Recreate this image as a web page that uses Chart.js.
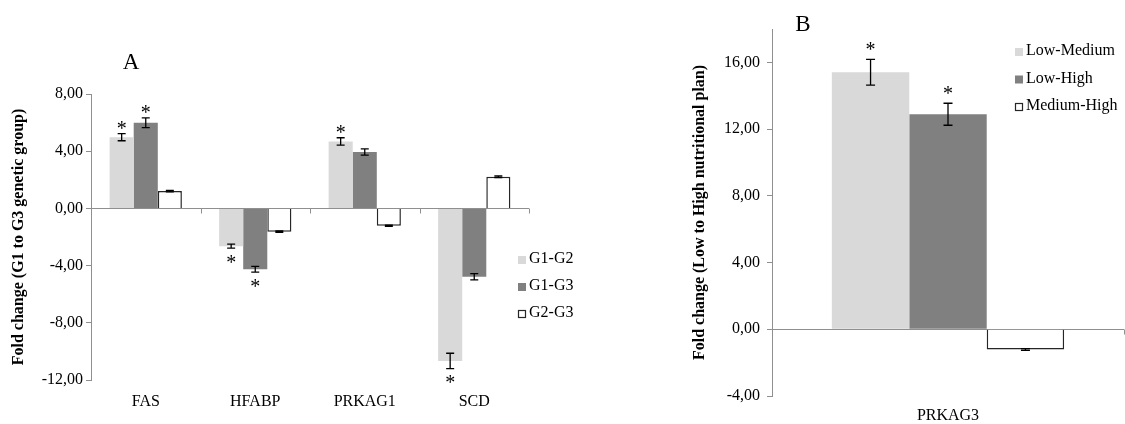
<!DOCTYPE html>
<html>
<head>
<meta charset="utf-8">
<script src="https://cdn.jsdelivr.net/npm/chart.js@4.4.1/dist/chart.umd.min.js"></script>
<style>
  html, body { margin: 0; padding: 0; background: #fff; }
  #wrap { position: relative; width: 1125px; height: 424px; overflow: hidden; }
  canvas { position: absolute; top: 0; }
  #chart-a { left: 0; }
  #chart-b { left: 560px; }
</style>
</head>
<body>
<div id="wrap">
  <canvas id="chart-a" width="600" height="424"></canvas>
  <canvas id="chart-b" width="565" height="424"></canvas>
</div>
<script>
// Panel A - G1 to G3 genetic group
const genesA = ['FAS', 'HFABP', 'PRKAG1', 'SCD'];
const g1g2 = [4.98, -2.64, 4.68, -10.67];
const g1g3 = [5.99, -4.25, 3.94, -4.78];
const g2g3 = [1.21, -1.63, -1.22, 2.22];
const g1g2Err = [0.25, 0.14, 0.26, 0.54];
const g1g3Err = [0.34, 0.20, 0.22, 0.22];
const g2g3Err = [0.05, 0.05, 0.04, 0.06];
const g1g2Sig = [true, true, true, true];
const g1g3Sig = [true, true, false, false];
const g2g3Sig = [false, false, false, false];
const ticksA = [-12, -8, -4, 0, 4, 8];

// Panel B - Low to High nutritional plan
const genesB = ['PRKAG3'];
const lowMed = [15.41];
const lowHigh = [12.89];
const medHigh = [-1.21];
const lowMedErr = [0.77];
const lowHighErr = [0.66];
const medHighErr = [0.05];
const lowMedSig = [true];
const lowHighSig = [true];
const medHighSig = [false];
const ticksB = [-4, 0, 4, 8, 12, 16];

const SERIF = '"Liberation Serif", "Times New Roman", serif';
const AXIS = '#8f8f8f';
const LIGHT = '#d9d9d9';
const DARK = '#808080';

Chart.defaults.font.family = SERIF;
Chart.defaults.color = '#000';

const fmt = v => v.toFixed(2).replace('.', ',');

// error bars + asterisks
const errorBars = {
    id: 'errorBars',
    afterDatasetsDraw(chart, args, opts) {
        const ctx = chart.ctx;
        const y = chart.scales.y;
        ctx.save();
        ctx.strokeStyle = '#000';
        ctx.fillStyle = '#000';
        ctx.lineWidth = 1.3;
        ctx.font = '20px ' + SERIF;
        ctx.textAlign = 'center';
        ctx.textBaseline = 'alphabetic';
        chart.data.datasets.forEach((ds, i) => {
            chart.getDatasetMeta(i).data.forEach((bar, j) => {
                const v = ds.data[j], e = ds.err[j];
                const top = y.getPixelForValue(v + e);
                const bot = y.getPixelForValue(v - e);
                ctx.beginPath();
                ctx.moveTo(bar.x, top); ctx.lineTo(bar.x, bot);
                ctx.moveTo(bar.x - opts.cap, top); ctx.lineTo(bar.x + opts.cap, top);
                ctx.moveTo(bar.x - opts.cap, bot); ctx.lineTo(bar.x + opts.cap, bot);
                ctx.stroke();
                if (ds.sig[j]) {
                    const cy = v >= 0 ? top - opts.gapUp : bot + opts.gapDown;
                    ctx.fillText('*', bar.x, cy + 9.6);
                }
            });
        });
        ctx.restore();
    }
};

// little tick marks on the zero line between categories
const zeroTicks = {
    id: 'zeroTicks',
    beforeDatasetsDraw(chart) {
        const ctx = chart.ctx;
        const x = chart.scales.x, y = chart.scales.y;
        const y0 = Math.round(y.getPixelForValue(0)) + 0.5;
        ctx.save();
        ctx.strokeStyle = AXIS;
        ctx.lineWidth = 1;
        for (let i = 0; i < x.ticks.length; i++) {
            const px = Math.round(x.getPixelForValue(i + 0.5)) + 0.5;
            ctx.beginPath();
            ctx.moveTo(px, y0);
            ctx.lineTo(px, y0 + 5);
            ctx.stroke();
        }
        ctx.restore();
    }
};

// legend drawn to the side, like the excel one
const sideLegend = {
    id: 'sideLegend',
    afterDraw(chart, args, opts) {
        const ctx = chart.ctx;
        ctx.save();
        ctx.font = '16px ' + SERIF;
        ctx.textBaseline = 'middle';
        ctx.textAlign = 'left';
        chart.data.datasets.forEach((ds, i) => {
            const cy = opts.y + i * opts.step;
            ctx.fillStyle = ds.backgroundColor;
            ctx.fillRect(opts.x, cy - 3, 8, 8);
            if (ds.borderWidth) {
                ctx.strokeStyle = ds.borderColor;
                ctx.lineWidth = 1.2;
                ctx.strokeRect(opts.x + 0.5, cy - 2.5, 7, 7);
            }
            ctx.fillStyle = '#000';
            ctx.fillText(ds.label, opts.x + 11, cy);
        });
        ctx.restore();
    }
};

const panelLabel = {
    id: 'panelLabel',
    afterDraw(chart, args, opts) {
        const ctx = chart.ctx;
        ctx.save();
        ctx.font = '23px ' + SERIF;
        ctx.fillStyle = '#000';
        ctx.textAlign = 'center';
        ctx.textBaseline = 'middle';
        ctx.fillText(opts.text, opts.x, opts.y);
        ctx.restore();
    }
};

function makeDatasets(labels, values, errs, sigs) {
    const colors = [LIGHT, DARK, '#ffffff'];
    return values.map((vals, i) => ({
        label: labels[i],
        data: vals,
        err: errs[i],
        sig: sigs[i],
        backgroundColor: colors[i],
        borderColor: '#262626',
        borderWidth: i === 2 ? 1.5 : 0,
        barPercentage: 1,
        categoryPercentage: 0.66,
    }));
}

function yAxis(ticks, min, max, width, titleText, titlePad, labelPad) {
    return {
        min: min,
        max: max,
        afterBuildTicks: s => { s.ticks = ticks.map(v => ({ value: v })); },
        afterFit: s => { s.width = width; },
        border: { display: true, color: AXIS, width: 1 },
        grid: {
            drawOnChartArea: true,
            color: c => (c.tick && c.tick.value === 0 ? AXIS : 'rgba(0,0,0,0)'),
            tickColor: AXIS,
            tickLength: 5,
        },
        ticks: {
            padding: labelPad,
            font: { size: 16 },
            callback: v => fmt(v),
        },
        title: {
            display: true,
            text: titleText,
            font: { size: 16, weight: 'bold' },
            padding: { top: titlePad, bottom: 0 },
        },
    };
}

function xAxis(height, pad) {
    return {
        afterFit: s => { s.height = height; },
        border: { display: false },
        grid: { display: false, drawTicks: false },
        ticks: { padding: pad, font: { size: 16 } },
    };
}

const chartA = new Chart(document.getElementById('chart-a'), {
    type: 'bar',
    data: {
        labels: genesA,
        datasets: makeDatasets(['G1-G2', 'G1-G3', 'G2-G3'],
            [g1g2, g1g3, g2g3], [g1g2Err, g1g3Err, g2g3Err], [g1g2Sig, g1g3Sig, g2g3Sig]),
    },
    options: {
        responsive: false,
        animation: false,
        layout: { padding: { left: 0, right: 71, top: 94, bottom: 0 } },
        plugins: {
            legend: { display: false },
            tooltip: { enabled: false },
            errorBars: { cap: 4, gapUp: 8, gapDown: 11 },
            sideLegend: { x: 518, y: 259, step: 27 },
            panelLabel: { text: 'A', x: 131, y: 63 },
        },
        scales: {
            x: xAxis(44, 12),
            y: yAxis(ticksA, -12, 8, 91, 'Fold change (G1 to G3 genetic group)', 9, 3),
        },
    },
    plugins: [zeroTicks, errorBars, sideLegend, panelLabel],
});

const chartB = new Chart(document.getElementById('chart-b'), {
    type: 'bar',
    data: {
        labels: genesB,
        datasets: makeDatasets(['Low-Medium', 'Low-High', 'Medium-High'],
            [lowMed, lowHigh, medHigh], [lowMedErr, lowHighErr, medHighErr], [lowMedSig, lowHighSig, medHighSig]),
    },
    options: {
        responsive: false,
        animation: false,
        layout: { padding: { left: 0, right: 1, top: 29, bottom: 0 } },
        plugins: {
            legend: { display: false },
            tooltip: { enabled: false },
            errorBars: { cap: 4.5, gapUp: 13, gapDown: 11 },
            sideLegend: { x: 455, y: 51, step: 27.5 },
            panelLabel: { text: 'B', x: 243, y: 25 },
        },
        scales: {
            x: xAxis(28, 10),
            y: yAxis(ticksB, -4, 18, 212, 'Fold change (Low to High nutritional plan)', 130, 7),
        },
    },
    plugins: [zeroTicks, errorBars, sideLegend, panelLabel],
});
</script>
</body>
</html>
